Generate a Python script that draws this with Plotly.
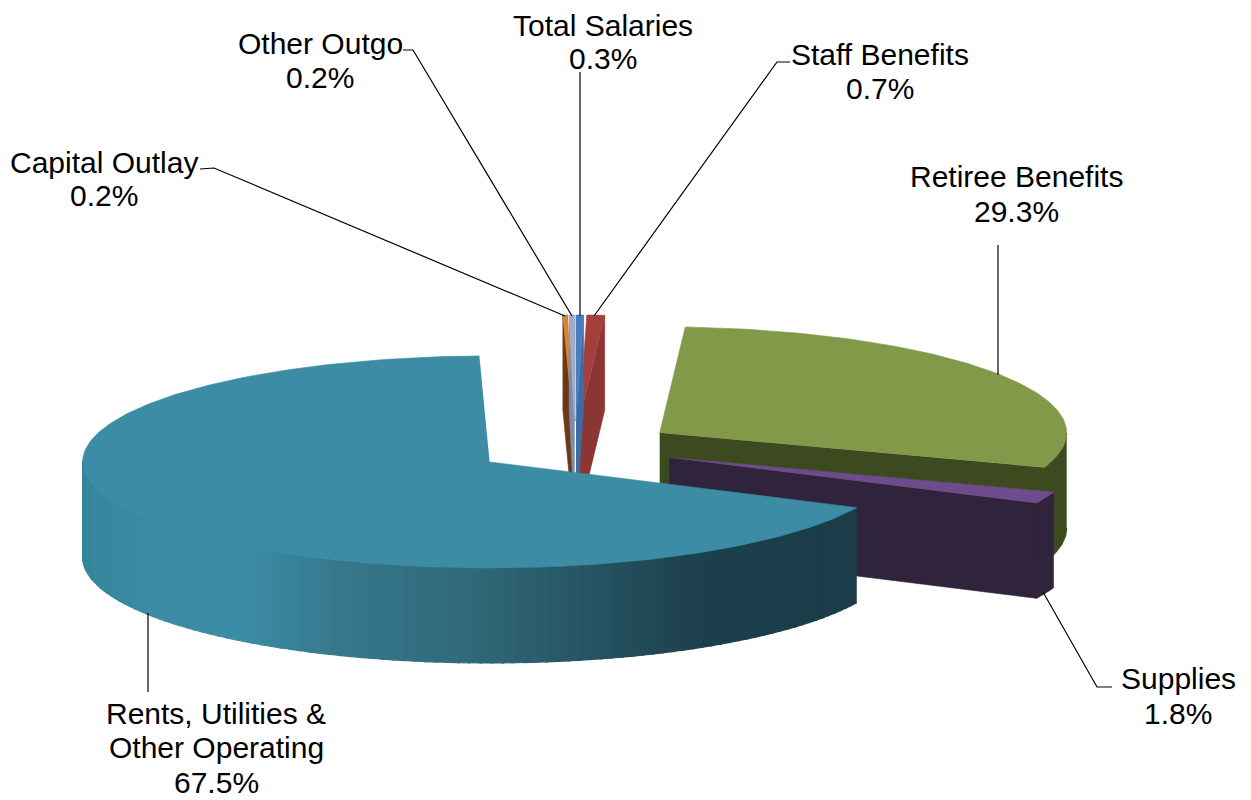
import numpy as np
import plotly.graph_objects as go

categories = ["Total Salaries", "Staff Benefits", "Retiree Benefits", "Supplies",
              "Rents, Utilities &<br>Other Operating", "Capital Outlay", "Other Outgo"]
values = [0.3, 0.7, 29.3, 1.8, 67.5, 0.2, 0.2]

top_colors = ["#4A7EBB", "#A53F3C", "#82994A", "#6E4B8C", "#3D8CA5", "#D9842F", "#9DADCB"]
side_colors = ["#3F6BA3", "#8C3634", "#3D4A1F", "#30243C", "#1B3E4A", "#6A3A18", "#7F8CA8"]

RX, RY, DEPTH, EXPLODE = 407.0, 106.0, 95.0, 0.25
CX, CY = 575.0, 447.5
PAGE_MARGIN = 8
RENTS_SHADE = [(83, "#37859C"), (150, "#3B8CA4"), (240, "#3C8EA7"), (340, "#37788C"),
               (480, "#306878"), (600, "#265262"), (700, "#1C404C"), (857, "#1B3D49")]

# label text centres: (x, first line y); line spacing; leader polyline
LABELS = {
    "Total Salaries": ((603, 25), 33, [(580, 72), (580, 316)]),
    "Staff Benefits": ((880, 54), 34, [(790, 62), (777, 62), (594, 316)]),
    "Retiree Benefits": ((1016, 176), 35, [(998, 245), (998, 375)]),
    "Supplies": ((1178, 678), 35, [(1112, 687), (1097, 687), (1043, 592)]),
    "Rents, Utilities &<br>Other Operating": ((216, 713), 34.5, [(148, 692), (148, 613)]),
    "Capital Outlay": ((104, 162), 33, [(200, 169), (214, 168), (565, 316)]),
    "Other Outgo": ((320, 43), 34, [(403, 50), (413, 50), (572, 316)]),
}

total = sum(values)
spans = [v / total * 360 for v in values]
starts = np.cumsum([0] + spans[:-1])
fig = go.Figure()


def poly(xs, ys, color, lw=0.6):
    fig.add_trace(go.Scatter(x=list(xs), y=list(ys), mode="lines", fill="toself", fillcolor=color,
                             line=dict(color=color, width=lw), hoverinfo="skip", showlegend=False))


def centre(a0, a1):
    m = np.radians((a0 + a1) / 2)
    return CX + EXPLODE * RX * np.sin(m), CY - EXPLODE * RY * np.cos(m)


def arc(c, a0, a1, n=None):
    n = n or max(3, int(abs(a1 - a0)) + 2)
    t = np.radians(np.linspace(a0, a1, n))
    return c[0] + RX * np.sin(t), c[1] - RY * np.cos(t)


def radial_face(c, a, color):
    x, y = arc(c, a, a, 2)
    poly([c[0], x[0], x[0], c[0]], [c[1], y[0], y[0] + DEPTH, c[1] + DEPTH], color)


def wedge_top(c, a0, a1, color):
    x, y = arc(c, a0, a1)
    poly([c[0], *x], [c[1], *y], color)


def outer_side(c, a0, a1, color, lw=0.6):
    x, y = arc(c, a0, a1)
    poly([*x, *x[::-1]], [*y, *(y[::-1] + DEPTH)], color, lw)


idx = {name: i for i, name in enumerate(categories)}
rents = idx["Rents, Utilities &<br>Other Operating"]
retiree = idx["Retiree Benefits"]
supplies = idx["Supplies"]

# small back slices
for name in ["Capital Outlay", "Other Outgo", "Staff Benefits", "Total Salaries"]:
    i = idx[name]
    a0, a1 = starts[i], starts[i] + spans[i]
    if name in ("Capital Outlay", "Other Outgo"):
        a0, a1 = a0 - 360, a1 - 360
    c = centre(a0, a1)
    if a0 < 0:
        radial_face(c, a0, side_colors[i])
    if a1 > 0:
        radial_face(c, a1, side_colors[i])
    wedge_top(c, a0, a1, top_colors[i])

# retiree, then supplies
for i in (retiree, supplies):
    a0, a1 = starts[i], starts[i] + spans[i]
    c = centre(a0, a1)
    outer_side(c, max(a0, 90), a1, side_colors[i], 1.2)
    radial_face(c, a1, side_colors[i])
    wedge_top(c, a0, a1, top_colors[i])

# rents: shaded outer wall
a0, a1 = starts[rents], starts[rents] + spans[rents]
c = centre(a0, a1)
sx = [s[0] for s in RENTS_SHADE]


def shade(x):
    rgb = [[int(s[1][k:k + 2], 16) for s in RENTS_SHADE] for k in (1, 3, 5)]
    return "rgb(%d,%d,%d)" % tuple(np.interp(x, sx, ch) for ch in rgb)


edges = np.linspace(a0, 270, 100)
for b0, b1 in zip(edges[:-1], edges[1:]):
    mid = c[0] + RX * np.sin(np.radians((b0 + b1) / 2))
    outer_side(c, b0, b1 + 0.3, shade(mid), 1.2)
wedge_top(c, a0, a1, top_colors[rents])

# leaders
for name, (_, _, pts) in LABELS.items():
    fig.add_trace(go.Scatter(x=[p[0] for p in pts], y=[p[1] for p in pts], mode="lines",
                             line=dict(color="#000000", width=1.2), hoverinfo="skip", showlegend=False))

# text
for name, v in zip(categories, values):
    (tx, ty), spacing, _ = LABELS[name]
    lines = name.split("<br>") + [f"{v:.1f}%"]
    for k, s in enumerate(lines):
        fig.add_annotation(x=tx, y=ty + k * spacing, text=s, showarrow=False, xanchor="center", yanchor="middle",
                           font=dict(family="Liberation Sans", size=30, color="#000000"))

fig.update_layout(width=1251 - PAGE_MARGIN, height=800 - PAGE_MARGIN, margin=dict(l=0, r=0, t=0, b=0),
                  paper_bgcolor="white", plot_bgcolor="white", showlegend=False,
                  xaxis=dict(range=[PAGE_MARGIN, 1251], visible=False, fixedrange=True),
                  yaxis=dict(range=[800, PAGE_MARGIN], visible=False, fixedrange=True))
fig.write_html("out.html", config={"displayModeBar": False})
